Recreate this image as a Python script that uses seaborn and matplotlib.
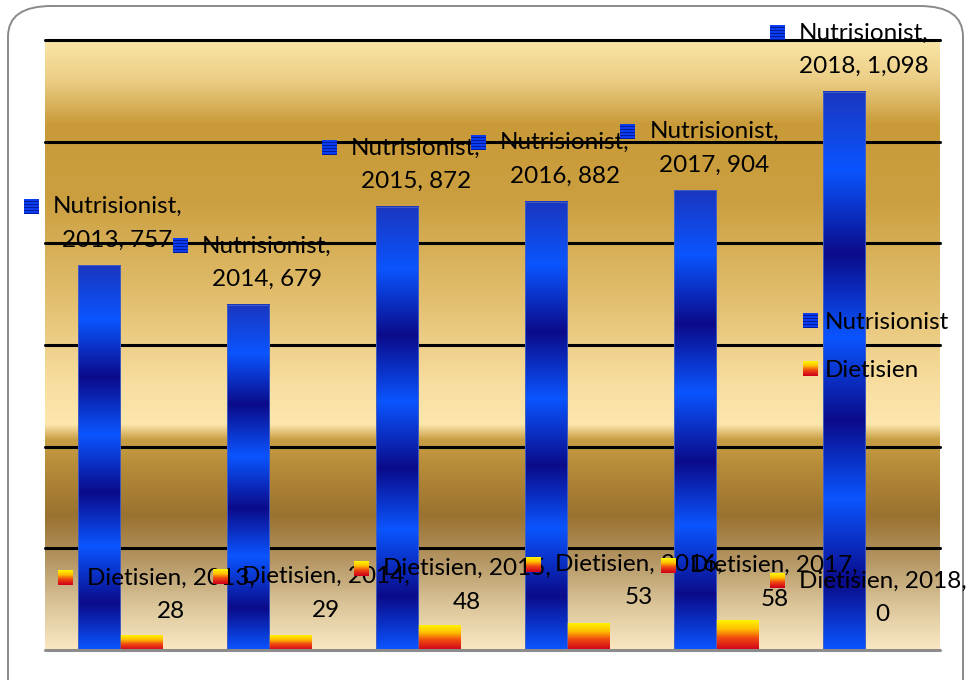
import numpy as np
import pandas as pd
import matplotlib
matplotlib.use("Agg")
import matplotlib.pyplot as plt
import seaborn as sns
from matplotlib.colors import LinearSegmentedColormap, to_rgb
from matplotlib.patches import FancyBboxPatch, Rectangle
from matplotlib.offsetbox import OffsetImage, AnnotationBbox

# ---- data -------------------------------------------------------------
years = ["2013", "2014", "2015", "2016", "2017", "2018"]
series_names = ["Nutrisionist", "Dietisien"]
nutrisionist = [757, 679, 872, 882, 904, 1098]
dietisien = [28, 29, 48, 53, 58, 0]
y_ticks = [0, 200, 400, 600, 800, 1000, 1200]

df = pd.DataFrame({
    "Tahun": years * 2,
    "Profesi": [series_names[0]] * len(years) + [series_names[1]] * len(years),
    "Jumlah": nutrisionist + dietisien,
})

# ---- style ------------------------------------------------------------
sns.set_theme(style="white")
plt.rcParams["font.family"] = ["Lato", "DejaVu Sans"]
plt.rcParams["text.color"] = "black"
FS = 17.5
LS = 1.75

W, H, DPI = 966, 680, 100
fig = plt.figure(figsize=(W / DPI, H / DPI), dpi=DPI)
fig.patch.set_facecolor("white")

# rounded outer frame (bottom edge runs past the canvas)
frame = FancyBboxPatch((8 / W, -40 / H), 955 / W, (H - 6 + 40) / H,
                       boxstyle="round,pad=0,rounding_size=0.045",
                       transform=fig.transFigure, facecolor="none",
                       edgecolor="#8a8a8a", linewidth=1.4, zorder=-1)
fig.patches.append(frame)

ax = fig.add_axes([45 / W, 30 / H, 895 / W, 610 / H])
ax.set_facecolor("none")

palette = {"Nutrisionist": "#0a50ff", "Dietisien": "#ff8000"}
sns.barplot(data=df, x="Tahun", y="Jumlah", hue="Profesi", order=years,
            hue_order=series_names, palette=palette, width=0.564, gap=0,
            errorbar=None, saturation=1, legend=False, ax=ax, zorder=2)

ax.set_xlim(-0.5, 5.5)
ax.set_ylim(0, 1200)


def vgrad(stops, n=256):
    cmap = LinearSegmentedColormap.from_list("g", stops, N=n)
    col = cmap(np.linspace(0, 1, n))[:, :3]
    return col[:, None, :]


# gold backdrop of the plotting area (top -> bottom)
gold_stops = [
    (0.00, "#fae6a6"), (0.066, "#ebcd85"), (0.138, "#c99a38"),
    (0.26, "#cb9f40"), (0.43, "#e3c070"), (0.565, "#f8dea0"),
    (0.63, "#fde7ad"), (0.655, "#c99f45"), (0.70, "#b68b38"),
    (0.78, "#9a7230"), (0.85, "#b39461"), (0.93, "#dcc79b"),
    (1.00, "#fbe8c2"),
]
ax.imshow(vgrad(gold_stops, 512), extent=[0, 1, 0, 1], transform=ax.transAxes,
          aspect="auto", zorder=0, interpolation="bilinear")

# horizontal rules
for t in y_ticks[1:]:
    ax.axhline(t, color="black", lw=2.2, zorder=1, clip_on=False)
ax.axhline(0, color="#8c8c8c", lw=2.2, zorder=3, clip_on=False)

blue_stops = [
    (0.00, "#1a36c0"), (0.14, "#0a55ff"), (0.29, "#0b0b8a"),
    (0.44, "#0a55ff"), (0.59, "#0b0b8a"), (0.73, "#0a55ff"),
    (0.88, "#0b0b8a"), (1.00, "#0a55ff"),
]
fire_stops = [
    (0.00, "#fff200"), (0.30, "#ffc000"), (0.60, "#f04a10"), (1.00, "#d0001a"),
]
blue_img = vgrad(blue_stops)
fire_img = vgrad(fire_stops)

bars = [p for p in ax.patches if isinstance(p, Rectangle)]
for p in bars:
    fc = p.get_facecolor()[:3]
    is_blue = np.allclose(fc, to_rgb(palette["Nutrisionist"]), atol=0.02)
    x0, y0, w, h = p.get_x(), p.get_y(), p.get_width(), p.get_height()
    if h > 0:
        ax.imshow(blue_img if is_blue else fire_img,
                  extent=[x0, x0 + w, y0, y0 + h], aspect="auto",
                  zorder=2, interpolation="bilinear")
    p.set_facecolor("none")
    p.set_edgecolor("#4a64c0" if is_blue else "none")
    p.set_linewidth(0.6)
    p.set_zorder(2.5)

ax.set_xlim(-0.5, 5.5)
ax.set_ylim(0, 1200)
ax.set_aspect("auto")
ax.set_xticks([])
ax.set_yticks([])
for s in ax.spines.values():
    s.set_visible(False)
ax.set_xlabel("")
ax.set_ylabel("")

# ---- data labels --------------------------------------------------------
pair_w = 0.564
n_off, d_off = -pair_w / 4, pair_w / 4
diet_dx = [30, 36, 28, 51, 37, -4]
diet_dy = [41, 42, 40, 42, 38, 52]

labels = []
for i, (yr, v) in enumerate(zip(years, nutrisionist)):
    a = ax.annotate(f"{series_names[0]},\n{yr}, {v:,}", xy=(i + n_off, v),
                    xytext=(19, 42), textcoords="offset pixels",
                    ha="center", va="center", fontsize=FS, linespacing=LS,
                    color="black", zorder=6, annotation_clip=False)
    labels.append((a, "n"))
for i, (yr, v) in enumerate(zip(years, dietisien)):
    a = ax.annotate(f"{series_names[1]}, {yr},\n{v:,}", xy=(i + d_off, v),
                    xytext=(diet_dx[i], diet_dy[i]), textcoords="offset pixels",
                    ha="center", va="center", fontsize=FS, linespacing=LS,
                    color="black", zorder=6, annotation_clip=False)
    labels.append((a, "d"))

# legend with blank keys; the gradient swatches are placed on top later
blank = [Rectangle((0, 0), 1, 1, facecolor="none", edgecolor="none") for _ in series_names]
leg = ax.legend(blank, series_names, loc="center left",
                bbox_to_anchor=(0.847, 0.497), frameon=False, fontsize=FS,
                borderpad=0, borderaxespad=0, handlelength=0.62,
                handleheight=0.62, handletextpad=0.29, labelspacing=1.1,
                labelcolor="black")
leg.set_zorder(6)


# swatch images
def stripe_swatch(n=15):
    img = np.zeros((n, n, 3))
    for r in range(n):
        img[r, :, :] = to_rgb("#0a3cf0") if r % 3 != 2 else to_rgb("#001a9a")
    return img


def fire_swatch(n=15):
    g = vgrad(fire_stops, n)
    return np.repeat(g, n, axis=1)


sw_n = stripe_swatch()
sw_d = fire_swatch()

fig.canvas.draw()
renderer = fig.canvas.get_renderer()


def put_swatch(img, x, y):
    oi = OffsetImage(img, zoom=72 / DPI, interpolation="nearest")
    ab = AnnotationBbox(oi, (x, y), xycoords="figure pixels", frameon=False,
                        pad=0, box_alignment=(0.5, 0.5), zorder=7,
                        annotation_clip=False)
    fig.add_artist(ab)


for a, kind in labels:
    bb = a.get_window_extent(renderer)
    line_h = bb.height / 2
    put_swatch(sw_n if kind == "n" else sw_d, bb.x0 - 21.5,
               bb.y1 - line_h * 0.45 + 2)

for h, img in zip(leg.legend_handles, [sw_n, sw_d]):
    bb = h.get_window_extent(renderer)
    put_swatch(img, (bb.x0 + bb.x1) / 2, (bb.y0 + bb.y1) / 2)

fig.savefig("out.png", dpi=DPI)
